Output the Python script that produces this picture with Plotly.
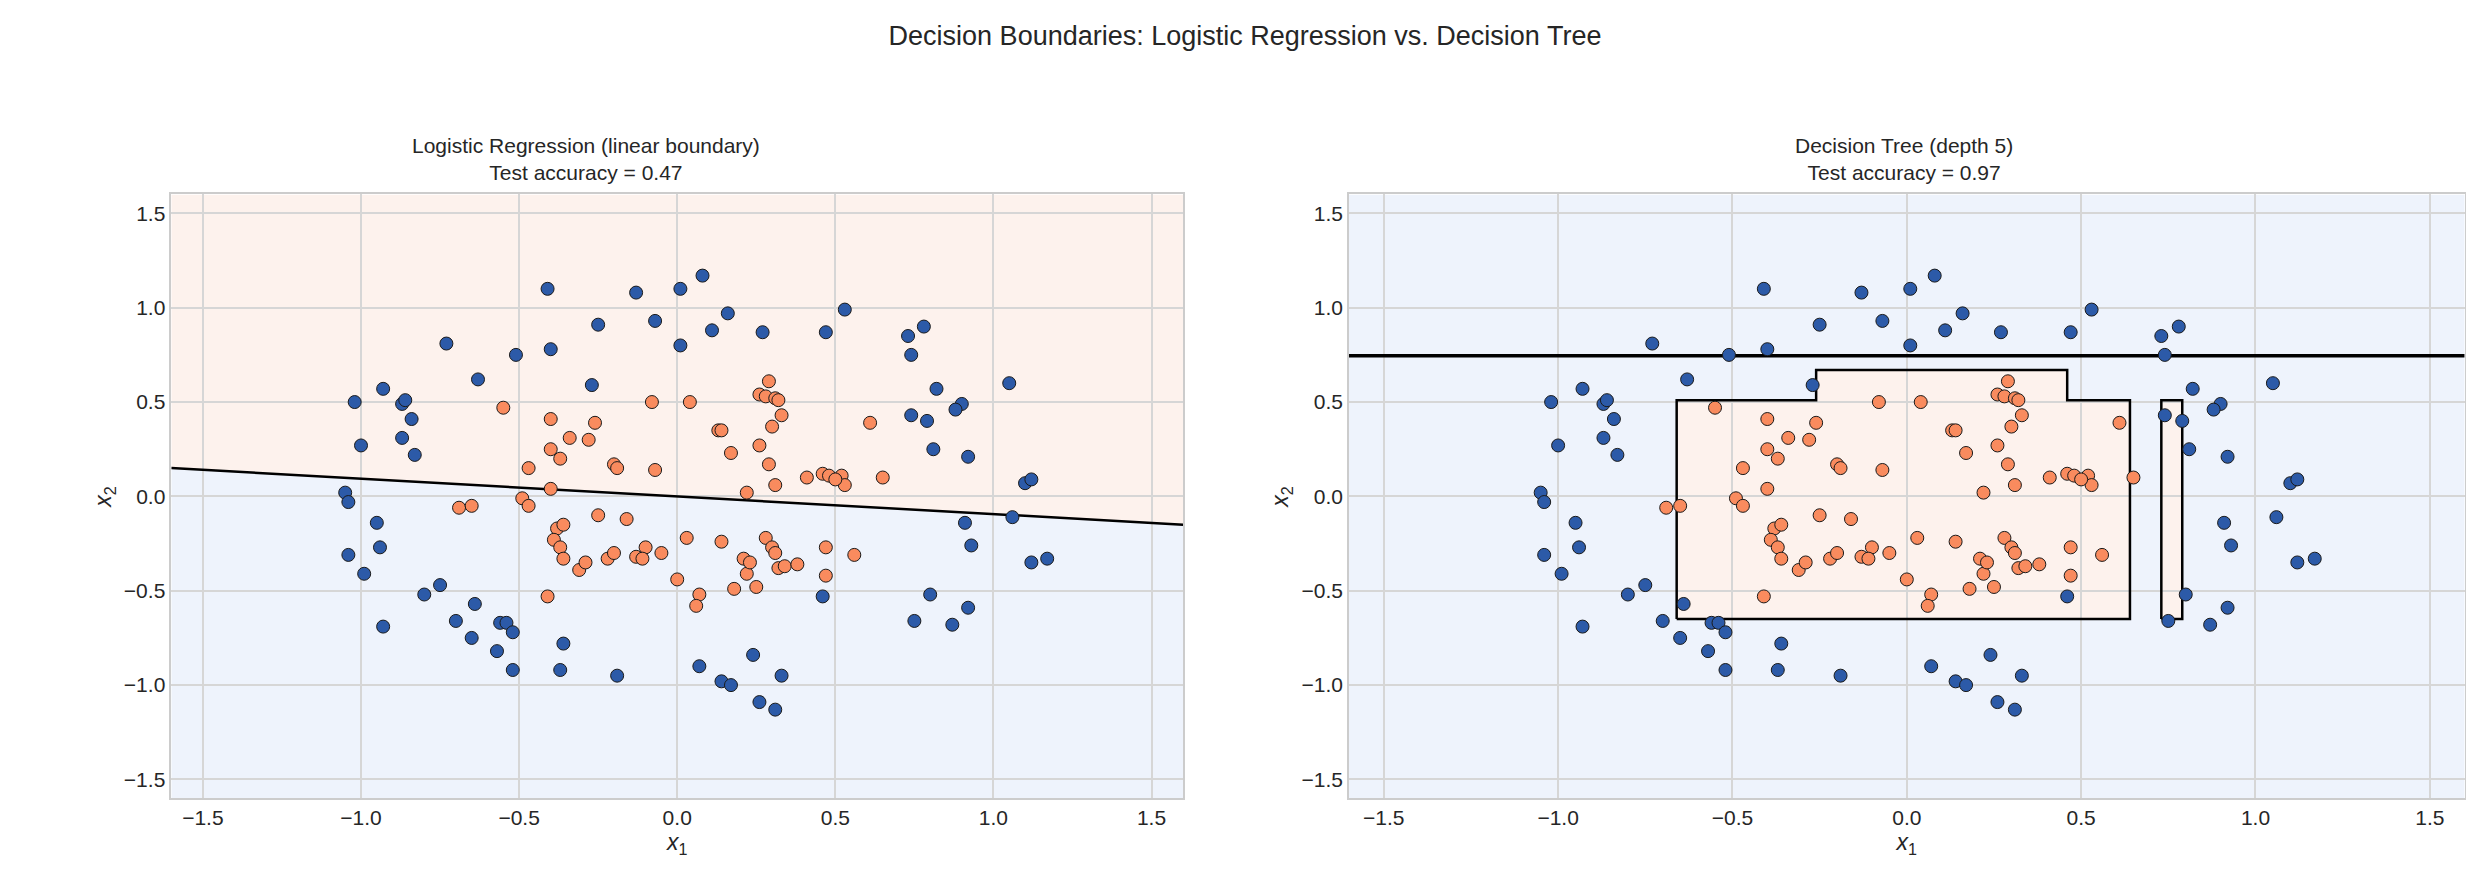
import plotly.graph_objects as go
from plotly.subplots import make_subplots

blue_pts = [(-1.02,0.50),(-1.00,0.27),(-0.93,0.57),(-0.87,0.49),(-0.86,0.51),(-0.84,0.41),(-0.87,0.31),(-0.83,0.22),
(-1.05,0.02),(-1.04,-0.03),(-0.95,-0.14),(-0.94,-0.27),(-1.04,-0.31),(-0.99,-0.41),(-0.93,-0.69),(-0.80,-0.52),
(-0.75,-0.47),(-0.70,-0.66),(-0.64,-0.57),(-0.65,-0.75),(-0.57,-0.82),(-0.56,-0.67),(-0.54,-0.67),(-0.52,-0.72),
(-0.52,-0.92),(-0.36,-0.78),(-0.37,-0.92),(-0.19,-0.95),(0.07,-0.90),(0.14,-0.98),(0.17,-1.00),(0.24,-0.84),
(0.26,-1.09),(0.31,-1.13),(0.33,-0.95),(0.46,-0.53),(0.75,-0.66),(0.80,-0.52),(0.87,-0.68),(0.92,-0.59),
(0.91,-0.14),(0.93,-0.26),(1.06,-0.11),(1.10,0.07),(1.12,0.09),(1.12,-0.35),(1.17,-0.33),(1.05,0.60),
(0.90,0.49),(0.88,0.46),(0.92,0.21),(0.81,0.25),(0.82,0.57),(0.79,0.40),(0.74,0.43),(0.73,0.85),(0.78,0.90),
(0.74,0.75),(0.53,0.99),(0.47,0.87),(0.27,0.87),(0.11,0.88),(0.01,0.80),(-0.07,0.93),(-0.25,0.91),(-0.41,1.10),
(0.08,1.17),(0.01,1.10),(-0.13,1.08),(0.16,0.97),(-0.40,0.78),(-0.51,0.75),(-0.73,0.81),(-0.63,0.62),(-0.27,0.59)]
orange_pts = [(-0.55,0.47),(-0.40,0.41),(-0.40,0.25),(-0.37,0.20),(-0.34,0.31),(-0.28,0.30),(-0.26,0.39),(-0.20,0.17),
(-0.19,0.15),(-0.08,0.50),(0.04,0.50),(0.13,0.35),(0.14,0.35),(0.17,0.23),(0.26,0.27),(0.26,0.54),(0.28,0.53),
(0.29,0.61),(0.31,0.52),(0.33,0.43),(0.30,0.37),(0.32,0.51),(0.61,0.39),(0.65,0.10),(0.46,0.12),(0.48,0.11),
(0.52,0.11),(0.53,0.06),(0.50,0.09),(0.41,0.10),(0.31,0.06),(0.29,0.17),(0.22,0.02),(-0.07,0.14),(-0.16,-0.12),
(-0.25,-0.10),(-0.47,0.15),(-0.49,-0.01),(-0.47,-0.05),(-0.40,0.04),(-0.38,-0.17),(-0.36,-0.15),(-0.39,-0.23),
(-0.37,-0.27),(-0.36,-0.33),(-0.31,-0.39),(-0.29,-0.35),(-0.22,-0.33),(-0.20,-0.30),(-0.13,-0.32),(-0.10,-0.27),
(-0.11,-0.33),(-0.05,-0.30),(0.00,-0.44),(0.07,-0.52),(0.06,-0.58),(0.14,-0.24),(0.21,-0.33),(0.22,-0.41),
(0.23,-0.35),(0.25,-0.48),(0.28,-0.22),(0.30,-0.27),(0.31,-0.30),(0.32,-0.38),(0.34,-0.37),(0.38,-0.36),
(0.47,-0.27),(0.47,-0.42),(0.56,-0.31),(0.18,-0.49),(-0.41,-0.53),(-0.69,-0.06),(-0.65,-0.05),(0.03,-0.22)]

lr_x = [-1.6, 1.6]
lr_y = [0.15, -0.15]
tree_x = [-0.66,-0.66,-0.26,-0.26,0.46,0.46,0.64,0.64,-0.66]
tree_y = [-0.65,0.51,0.51,0.67,0.67,0.51,0.51,-0.65,-0.65]
thin_x = [0.73,0.73,0.79,0.79,0.73]
thin_y = [-0.65,0.51,0.51,-0.65,-0.65]
hline_y = 0.745
LIM = 1.6

BLUE_BG = "#eef3fc"; ORANGE_BG = "#fdf2ed"
BLUE = "#2c5aa8"; ORANGE = "#f98b5e"

fig = make_subplots(rows=1, cols=2, horizontal_spacing=0.066,
    subplot_titles=["Logistic Regression (linear boundary)<br>Test accuracy = 0.47",
                    "Decision Tree (depth 5)<br>Test accuracy = 0.97"])

def path(xs, ys):
    return "M " + " L ".join(f"{x},{y}" for x, y in zip(xs, ys)) + " Z"

fig.add_shape(type="path", path=path([lr_x[0], lr_x[1], LIM, -LIM], [lr_y[0], lr_y[1], LIM, LIM]),
    fillcolor=ORANGE_BG, line=dict(width=0), layer="below", xref="x", yref="y")
fig.add_shape(type="path", path=path([lr_x[0], lr_x[1], LIM, -LIM], [lr_y[0], lr_y[1], -LIM, -LIM]),
    fillcolor=BLUE_BG, line=dict(width=0), layer="below", xref="x", yref="y")
fig.add_trace(go.Scatter(x=lr_x, y=lr_y, mode="lines", line=dict(color="black", width=2.5), hoverinfo="skip"), 1, 1)

fig.add_shape(type="path", path=path([-LIM, LIM, LIM, -LIM], [-LIM, -LIM, LIM, LIM]),
    fillcolor=BLUE_BG, line=dict(width=0), layer="below", xref="x2", yref="y2")
fig.add_shape(type="path", path=path(tree_x, tree_y), fillcolor=ORANGE_BG, line=dict(width=0), layer="below", xref="x2", yref="y2")
fig.add_shape(type="path", path=path(thin_x, thin_y), fillcolor=ORANGE_BG, line=dict(width=0), layer="below", xref="x2", yref="y2")
fig.add_trace(go.Scatter(x=tree_x, y=tree_y, mode="lines", line=dict(color="black", width=2.5), hoverinfo="skip"), 1, 2)
fig.add_trace(go.Scatter(x=thin_x, y=thin_y, mode="lines", line=dict(color="black", width=2.5), hoverinfo="skip"), 1, 2)
fig.add_trace(go.Scatter(x=[-LIM, LIM], y=[hline_y, hline_y], mode="lines",
    line=dict(color="black", width=3.5), hoverinfo="skip"), 1, 2)

for c in (1, 2):
    fig.add_trace(go.Scatter(x=[p[0] for p in blue_pts], y=[p[1] for p in blue_pts], mode="markers",
        marker=dict(color=BLUE, size=13, line=dict(color="#1a1a1a", width=1))), 1, c)
    fig.add_trace(go.Scatter(x=[p[0] for p in orange_pts], y=[p[1] for p in orange_pts], mode="markers",
        marker=dict(color=ORANGE, size=13, line=dict(color="#1a1a1a", width=1))), 1, c)

tv = [-1.5,-1,-0.5,0,0.5,1,1.5]
tt = ["−1.5","−1.0","−0.5","0.0","0.5","1.0","1.5"]
ax = dict(range=[-LIM, LIM], showgrid=True, gridcolor="#d6d6d6", gridwidth=1.5, zeroline=False,
          showline=True, linecolor="#cccccc", mirror=True, linewidth=1.5,
          tickfont=dict(size=21, color="#262626"), ticks="", tickvals=tv, ticktext=tt)
fig.update_xaxes(**ax, title=dict(text="<i>x</i><sub>1</sub>", font=dict(size=23), standoff=4))
fig.update_yaxes(**ax, title=dict(text="<i>x</i><sub>2</sub>", font=dict(size=23), standoff=6))
fig.update_xaxes(domain=[0.066, 0.475], col=1)
fig.update_xaxes(domain=[0.542, 0.993], col=2)
fig.update_yaxes(domain=[0.11, 0.79])
for a in fig.layout.annotations:
    a.font = dict(size=21, color="#262626")
    a.y = 0.80
    a.yanchor = "bottom"

fig.update_layout(width=2474, height=888, showlegend=False, plot_bgcolor="white", paper_bgcolor="white",
    font=dict(family="Liberation Sans, Arial", color="#262626"),
    title=dict(text="Decision Boundaries: Logistic Regression vs. Decision Tree", x=0.5, xanchor="center",
               y=0.98, yanchor="top", font=dict(size=27)),
    margin=dict(l=0, r=0, t=0, b=0))
fig.write_html("out.html")
